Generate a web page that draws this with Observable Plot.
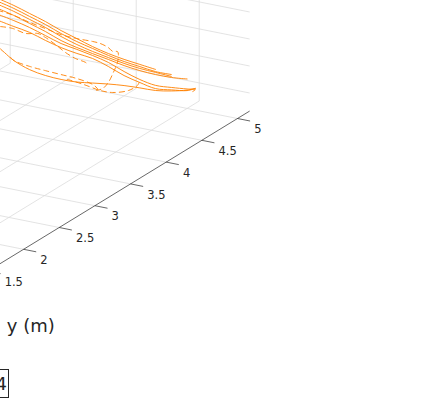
<!DOCTYPE html>
<html><head><meta charset="utf-8">
<script src="https://cdn.jsdelivr.net/npm/d3@7"></script>
<script src="https://cdn.jsdelivr.net/npm/@observablehq/plot@0.6"></script>
<style>
html,body{margin:0;padding:0;background:#fff;}
body{width:423px;height:420px;overflow:hidden;position:relative;font-family:"DejaVu Sans",sans-serif;}
#tag{position:absolute;left:-34px;top:369px;width:40px;height:27px;border:1px solid #262626;background:#fff;
 color:#262626;font:18px "DejaVu Sans",sans-serif;line-height:27px;text-align:right;padding-right:1px;box-sizing:content-box;}
</style></head>
<body><div id="chart"></div><div id="tag">4</div>
<script>
// ---- axes / ticks ----
const yTicks = [1.5, 2, 2.5, 3, 3.5, 4, 4.5, 5];
const yTickLabels = ["1.5", "2", "2.5", "3", "3.5", "4", "4.5", "5"];
const xGrid = [6, 7, 8, 9];
const zGrid = [1, 2, 3, 4];
const xLim = [5, 9.8];
const yLim = [1.2, 5.17];
const zLim = [0.33, 5];
const yLabel = "y (m)";
const trajY = 5; // lateral plane of the trajectories

// ---- trajectories: [x, z] ----
const solid1 = [[6,3.00],[6.25,2.86],[6.5,2.68],[6.75,2.50],[7,2.28],[7.25,2.10],[7.5,1.92],[7.75,1.78],[8,1.68],[8.25,1.61],[8.5,1.54]];
const solid2 = [[6,2.89],[6.25,2.75],[6.5,2.57],[6.75,2.39],[7,2.17],[7.25,1.99],[7.5,1.85],[7.75,1.71],[8,1.60],[8.25,1.53],[8.5,1.46],[8.75,1.47]];
const solid3 = [[6,2.78],[6.25,2.64],[6.5,2.46],[6.75,2.28],[7,2.06],[7.25,1.88],[7.5,1.74],[7.75,1.63],[8,1.53],[8.25,1.46],[8.5,1.43],[8.75,1.40]];
const solid4 = [[6,2.63],[6.25,2.49],[6.5,2.31],[6.75,2.13],[7,1.91],[7.25,1.77],[7.5,1.66],[7.75,1.56],[8,1.45],[8.25,1.38],[8.5,1.35],[8.75,1.36],[9,1.42]];
const solid5 = [[6,2.41],[6.25,2.30],[6.5,2.16],[6.75,1.98],[7,1.80],[7.25,1.70],[7.5,1.59],[7.75,1.45],[8,1.23],[8.25,1.05],[8.5,0.95],[8.75,0.99],[9,1.05],[9.13,1.09],[9.09,1.00]];
const solid6 = [[6,2.19],[6.25,2.08],[6.5,1.98],[6.75,1.80],[7,1.65],[7.25,1.55],[7.5,1.48],[7.75,1.30],[8,1.08],[8.25,0.94],[8.5,0.83],[8.75,0.90],[9,0.99],[9.13,1.13]];
const solid7 = [[5.94,1.49],[6,1.22],[6.1,1.05],[6.25,0.82],[6.5,0.60],[6.75,0.50],[7,0.47],[7.25,0.49],[7.5,0.57],[7.75,0.65],[8,0.71],[8.25,0.74],[8.5,0.76],[8.75,0.86],[9,1.01],[9.13,1.13]];
const dashed1 = [[6,2.56],[6.25,2.49],[6.5,2.35],[6.75,2.24],[7,2.13],[7.25,2.10],[7.5,2.11],[7.625,2.09],[7.75,2.00],[7.82,1.89],[7.895,1.92],[7.91,1.82],[7.895,1.52],[7.83,1.12],[7.75,0.71],[7.66,0.44],[7.56,0.33]];
const dashed2 = [[6.2,0.91],[6.25,0.82],[6.5,0.72],[6.75,0.68],[7,0.65],[7.25,0.62],[7.5,0.52],[7.58,0.40]];
const dashed3 = [[7.1,0.52],[7.36,0.45],[7.625,0.35],[7.82,0.37],[8.07,0.56],[8.21,0.81],[8.24,0.94]];
const dashed4 = [[6.04,1.98],[6.23,2.00],[6.44,1.91],[6.63,2.00],[6.75,1.91],[6.91,1.72],[7.07,1.50],[7.23,1.35],[7.39,1.28],[7.44,1.19]];
const solidCurves = [solid1, solid2, solid3, solid4, solid5, solid6, solid7];
const dashedCurves = [dashed1, dashed2, dashed3, dashed4];

// ---- view (projection of the 3-D box) ----
const W = 423, H = 420;
const view = {ref: [xLim[1], 5, zLim[0]], at: [237, 118], ex: [63, 12.6], ey: [71.3, -43.6], ez: [0, -27]};
function P(x, y, z) {
  const dx = x - view.ref[0], dy = y - view.ref[1], dz = z - view.ref[2];
  return [view.at[0] + dx*view.ex[0] + dy*view.ey[0] + dz*view.ez[0],
          view.at[1] + dx*view.ex[1] + dy*view.ey[1] + dz*view.ez[1]];
}

// grid segments
const grid = [];
for (const y of yTicks) grid.push({a:[xLim[0],y,zLim[0]], b:[xLim[1],y,zLim[0]]});
for (const x of xGrid) grid.push({a:[x,yLim[0],zLim[0]], b:[x,yLim[1],zLim[0]]});
for (const x of xGrid) grid.push({a:[x,yLim[1],zLim[0]], b:[x,yLim[1],zLim[1]]});
for (const z of zGrid) grid.push({a:[xLim[0],yLim[1],z], b:[xLim[1],yLim[1],z]});

const axisSeg = [{a:[xLim[1],yLim[0],zLim[0]], b:[xLim[1],yLim[1],zLim[0]]}];
const tickSegs = yTicks.map(y => ({a:[xLim[1],y,zLim[0]], b:[xLim[1]+0.2,y,zLim[0]]}));
const labels = yTicks.map((y,i) => ({p:[xLim[1]+0.265, y, zLim[0]-0.285], t:yTickLabels[i]}));

const seg = (opts) => ({x1:d=>P(...d.a)[0], y1:d=>P(...d.a)[1], x2:d=>P(...d.b)[0], y2:d=>P(...d.b)[1], clip:true, ...opts});
const orange = "#ff8000";

const marks = [
  Plot.link(grid, seg({stroke:"#dcdcdc", strokeWidth:0.8})),
  ...solidCurves.map(c => Plot.line(c, {x:d=>P(d[0],trajY,d[1])[0], y:d=>P(d[0],trajY,d[1])[1], stroke:orange, strokeWidth:0.9, curve:"catmull-rom", clip:true})),
  ...dashedCurves.map(c => Plot.line(c, {x:d=>P(d[0],trajY,d[1])[0], y:d=>P(d[0],trajY,d[1])[1], stroke:orange, strokeWidth:0.9, strokeDasharray:"5,4", curve:"catmull-rom", clip:true})),
  Plot.link(axisSeg, seg({stroke:"#262626", strokeWidth:0.7})),
  Plot.link(tickSegs, seg({stroke:"#262626", strokeWidth:0.7})),
  Plot.text(labels, {x:d=>P(...d.p)[0], y:d=>P(...d.p)[1], text:"t", textAnchor:"start", lineAnchor:"middle", fontSize:11.5, fill:"#262626", fontFamily:"DejaVu Sans"}),
  Plot.text([yLabel], {x:()=>P(xLim[1],2.1,-2.68)[0], y:()=>P(xLim[1],2.1,-2.68)[1], text:d=>d, textAnchor:"middle", lineAnchor:"middle", fontSize:18, fill:"#262626", fontFamily:"DejaVu Sans"})
];

const chart = Plot.plot({
  width: W, height: H, margin: 0,
  x: {domain:[0,W], range:[0,W], axis:null},
  y: {domain:[0,H], range:[0,H], axis:null},
  style: {background:"#fff", overflow:"hidden"},
  marks
});
document.getElementById("chart").appendChild(chart);
</script>
</body></html>
